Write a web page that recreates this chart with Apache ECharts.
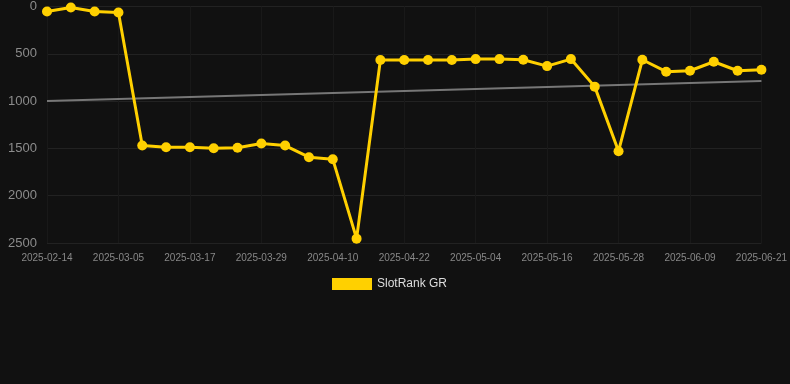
<!DOCTYPE html>
<html>
<head>
<meta charset="utf-8">
<script src="https://cdn.jsdelivr.net/npm/echarts@6/dist/echarts.min.js"></script>
<style>
  html, body { margin: 0; padding: 0; background: #111111; }
  #chart { width: 790px; height: 384px; }
</style>
</head>
<body>
<div id="chart"></div>
<script>
// categories (only every third one is labelled in the picture)
var dates = [
  '2025-02-14', '2025-02-20', '2025-02-26', '2025-03-05', '2025-03-09', '2025-03-13',
  '2025-03-17', '2025-03-21', '2025-03-25', '2025-03-29', '2025-04-02', '2025-04-06',
  '2025-04-10', '2025-04-14', '2025-04-18', '2025-04-22', '2025-04-26', '2025-04-30',
  '2025-05-04', '2025-05-08', '2025-05-12', '2025-05-16', '2025-05-20', '2025-05-24',
  '2025-05-28', '2025-06-01', '2025-06-05', '2025-06-09', '2025-06-13', '2025-06-17',
  '2025-06-21'
]

// rank values
var rankGR = [
  53, 10, 53, 63, 1470, 1487, 1487, 1498, 1494, 1449, 1470, 1593, 1614, 2454, 566,
  566, 566, 566, 556, 556, 563, 630, 556, 847, 1530, 563, 689, 679, 584, 679, 668
]

// trend line end points
var trendStart = 999
var trendEnd = 788

var myChart = echarts.init(document.getElementById('chart'))

var option = {
  backgroundColor: '#111111',
  animation: false,
  grid: {
    left: 47,
    right: 28,
    top: 6,
    bottom: 141,
  },
  legend: {
    top: 273,
    left: 327,
    itemWidth: 40,
    itemHeight: 12,
    itemGap: 10,
    data: [{ name: 'SlotRank GR', icon: 'rect' }],
    textStyle: {
      color: '#dddddd',
      fontSize: 12,
      fontFamily: 'Liberation Sans, Arial, sans-serif',
    },
  },
  xAxis: {
    type: 'category',
    data: dates,
    boundaryGap: false,
    axisLine: { show: false },
    axisTick: { show: false },
    axisLabel: {
      interval: 2,
      color: '#888888',
      fontSize: 10,
      margin: 10,
      fontFamily: 'Liberation Sans, Arial, sans-serif',
    },
    splitLine: {
      show: true,
      interval: 2,
      lineStyle: { color: '#191919', width: 1 },
    },
  },
  yAxis: {
    type: 'value',
    inverse: true,
    min: 0,
    max: 2500,
    interval: 500,
    axisLine: { show: false },
    axisTick: { show: false },
    axisLabel: {
      color: '#8c8c8c',
      fontSize: 13,
      margin: 10,
      fontFamily: 'Liberation Sans, Arial, sans-serif',
      formatter: function (v) {
        return String(v)
      },
    },
    splitLine: {
      lineStyle: { color: '#222222', width: 1 },
    },
  },
  series: [
    {
      name: 'trend',
      type: 'line',
      data: [[dates[0], trendStart], [dates[dates.length - 1], trendEnd]],
      symbol: 'none',
      silent: true,
      lineStyle: { color: '#777777', width: 2 },
      z: 1,
    },
    {
      name: 'SlotRank GR',
      type: 'line',
      data: rankGR,
      symbol: 'circle',
      symbolSize: 10,
      itemStyle: { color: '#ffd000' },
      lineStyle: { color: '#ffd000', width: 3 },
      z: 2,
    },
  ],
}

myChart.setOption(option)
</script>
</body>
</html>
